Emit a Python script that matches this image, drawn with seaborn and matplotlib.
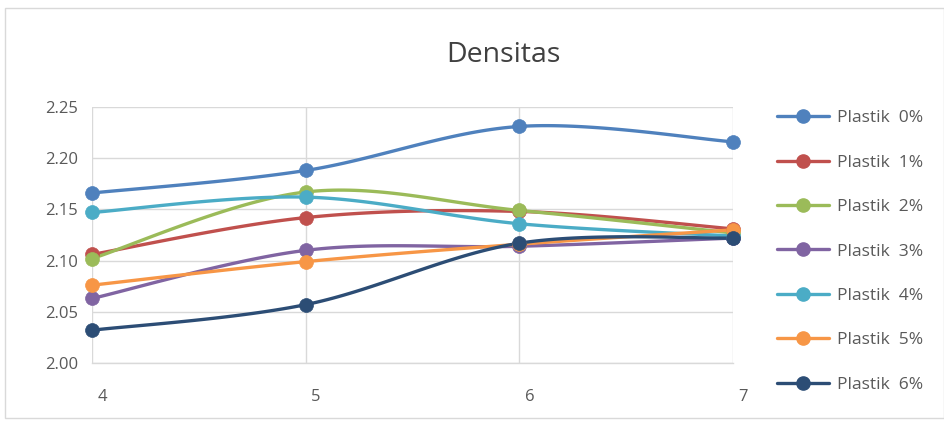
import numpy as np
import pandas as pd
import matplotlib
matplotlib.use("Agg")
import matplotlib.pyplot as plt
import matplotlib.transforms as mtransforms
from matplotlib.lines import Line2D
from matplotlib.patches import Rectangle
import seaborn as sns

# Data
umur = [4, 5, 6, 7]
series_names = ["Plastik  0%", "Plastik  1%", "Plastik  2%", "Plastik  3%",
                "Plastik  4%", "Plastik  5%", "Plastik  6%"]
plastik_0 = [2.166, 2.188, 2.231, 2.216]
plastik_1 = [2.106, 2.142, 2.148, 2.131]
plastik_2 = [2.102, 2.167, 2.149, 2.127]
plastik_3 = [2.063, 2.110, 2.114, 2.122]
plastik_4 = [2.147, 2.162, 2.136, 2.124]
plastik_5 = [2.076, 2.099, 2.116, 2.130]
plastik_6 = [2.032, 2.057, 2.117, 2.122]
series_values = [plastik_0, plastik_1, plastik_2, plastik_3,
                 plastik_4, plastik_5, plastik_6]
colors = ["#4F81BD", "#C0504D", "#9BBB59", "#8064A2",
          "#4BACC6", "#F79646", "#2C4D75"]
y_ticks = [2.00, 2.05, 2.10, 2.15, 2.20, 2.25]


def smooth(xs, ys, n=40):
    """Cardinal (Catmull-Rom style) Bezier smoothing through the points."""
    p = np.column_stack([xs, ys]).astype(float)
    out = []
    for i in range(len(p) - 1):
        p0 = p[max(i - 1, 0)]
        p1 = p[i]
        p2 = p[i + 1]
        p3 = p[min(i + 2, len(p) - 1)]
        c1 = p1 + (p2 - p0) / 6.0
        c2 = p2 - (p3 - p1) / 6.0
        t = np.linspace(0, 1, n)[:, None]
        seg = ((1 - t) ** 3) * p1 + 3 * ((1 - t) ** 2) * t * c1 \
            + 3 * (1 - t) * t ** 2 * c2 + t ** 3 * p2
        if i > 0:
            seg = seg[1:]
        out.append(seg)
    return np.vstack(out)


rows = []
pts = []
for name, vals in zip(series_names, series_values):
    curve = smooth(umur, vals)
    for k, (cx, cy) in enumerate(curve):
        rows.append({"series": name, "order": k, "x": cx, "y": cy})
    for ux, uv in zip(umur, vals):
        pts.append({"series": name, "x": ux, "y": uv})
curves = pd.DataFrame(rows)
points = pd.DataFrame(pts)

sns.set_theme(style="white")
plt.rcParams["font.family"] = ["Open Sans", "DejaVu Sans"]

W, H = 944, 421
fig = plt.figure(figsize=(W / 100, H / 100), dpi=100)
fig.patch.set_facecolor("white")

# chart frame
fig.patches.append(Rectangle((5 / W, 1 - 418 / H), (W - 5) / W, (418 - 8) / H,
                             transform=fig.transFigure, fill=False,
                             edgecolor="#D9D9D9", linewidth=1.0))

left, right, top, bottom = 92, 733, 107, 363
ax = fig.add_axes([left / W, 1 - bottom / H, (right - left) / W, (bottom - top) / H])

palette = dict(zip(series_names, colors))
for name in series_names:
    sub = curves[curves["series"] == name]
    sns.lineplot(data=sub, x="x", y="y", color=palette[name], sort=False,
                 estimator=None, linewidth=2.4, ax=ax, legend=False, zorder=3)
    psub = points[points["series"] == name]
    sns.scatterplot(data=psub, x="x", y="y", color=palette[name], s=100,
                    edgecolor=palette[name], linewidth=0.5, ax=ax,
                    legend=False, zorder=4, clip_on=False)

ax.set_xlim(4, 7)
ax.set_ylim(2.00, 2.25)
ax.set_xticks(umur)
ax.set_xticklabels([str(u) for u in umur])
ax.set_yticks(y_ticks)
ax.set_yticklabels([f"{v:.2f}" for v in y_ticks])
ax.set_xlabel("")
ax.set_ylabel("")
ax.grid(True, color="#D9D9D9", linewidth=1.0)
ax.set_axisbelow(True)
for side in ["top", "left", "right"]:
    ax.spines[side].set_visible(False)
ax.spines["bottom"].set_color("#D9D9D9")
ax.spines["bottom"].set_linewidth(1.0)
ax.tick_params(axis="both", length=0, labelsize=12, labelcolor="#595959")
ax.tick_params(axis="y", pad=10)
ax.tick_params(axis="x", pad=19)
offset = mtransforms.ScaledTranslation(0.10, 0, fig.dpi_scale_trans)
for lab in ax.get_xticklabels():
    lab.set_transform(lab.get_transform() + offset)

fig.text(503 / W, 1 - 62 / H, "Densitas", ha="center", va="baseline",
         fontsize=20.5, color="#404040")

handles = [Line2D([0], [0], color=c, linewidth=2.4, marker="o", markersize=9.5)
           for c in colors]
leg = fig.legend(handles, series_names, loc="upper left",
                 bbox_to_anchor=(777 / W, 1 - 110 / H), frameon=False,
                 fontsize=12.5, labelspacing=1.63, handlelength=3.0,
                 handletextpad=0.45, borderpad=0, borderaxespad=0,
                 labelcolor="#595959")

fig.savefig("out.png", dpi=100, facecolor="white")
